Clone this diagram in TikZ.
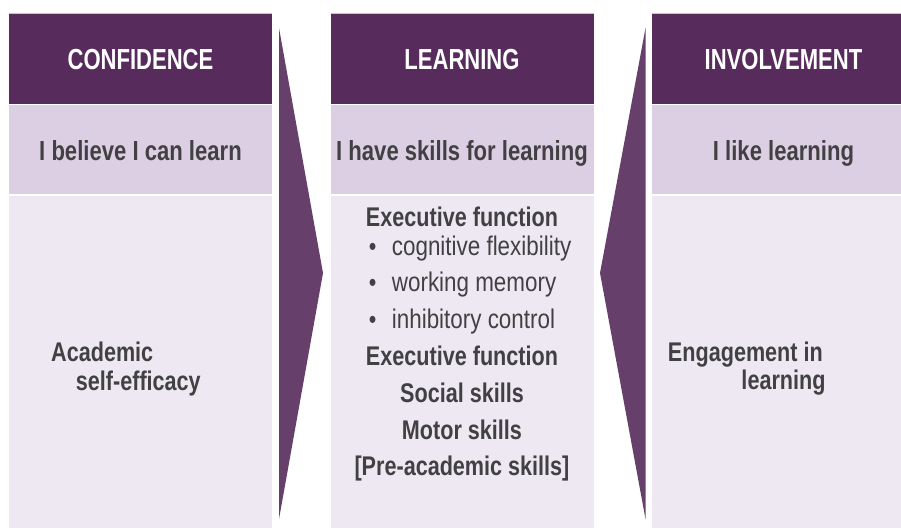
\documentclass[tikz,border=0pt]{standalone}
\usepackage{fontspec}
\newfontfamily\condbold{Liberation Sans}[FakeStretch=0.8,UprightFont={* Bold}]
\newfontfamily\condhead{Liberation Sans}[FakeStretch=0.76,UprightFont={* Bold}]
\newfontfamily\condreg{Liberation Sans}[FakeStretch=0.83]
\definecolor{hdr}{HTML}{582B5D}
\definecolor{subc}{HTML}{DCCFE3}
\definecolor{bodyc}{HTML}{EDE8F2}
\definecolor{tri}{HTML}{663F6B}
\definecolor{txt}{HTML}{414042}
\definecolor{edge}{HTML}{CBBFD3}
\tikzset{
  hdrtext/.style={anchor=base, inner sep=0pt, text=white, font=\condhead\fontsize{29}{32}\selectfont},
  subtext/.style={anchor=base, inner sep=0pt, text=txt, font=\condbold\fontsize{27.6}{30}\selectfont},
  boldtext/.style={anchor=base, inner sep=0pt, text=txt, font=\condbold\fontsize{27}{30}\selectfont},
  regtext/.style={anchor=base west, inner sep=0pt, text=txt, font=\condreg\fontsize{27}{30}\selectfont},
  bullettext/.style={anchor=base, inner sep=0pt, text=txt, font=\condreg\fontsize{26}{30}\selectfont},
}
\begin{document}
\begin{tikzpicture}[x=1pt,y=-1pt]
\clip (0,0) rectangle (901,527);
\fill[white] (0,0) rectangle (901,527);
% columns
\foreach \xl in {9,330.7,652}{
  \fill[hdr] (\xl,13) rectangle ++(263,90.5);
  \draw[edge,line width=0.8pt] (\xl,13.2) -- ++(263,0);
  \fill[subc] (\xl,105) rectangle ++(263,88.5);
  \fill[bodyc] (\xl,196) rectangle ++(263,340);
}
% arrows
\fill[tri] (279,28) -- (323,273) -- (279,519) -- cycle;
\fill[tri] (645.5,28) -- (600,273) -- (645.5,519) -- cycle;
% headers
\node[hdrtext] (h1) at (140.5,70) {CONFIDENCE};
\node[hdrtext] (h2) at (462,70) {LEARNING};
\node[hdrtext] (h3) at (783.5,70) {INVOLVEMENT};
% sub rows
\node[subtext] (s1) at (140.5,160) {I believe I can learn};
\node[subtext] (s2) at (462,160) {I have skills for learning};
\node[subtext] (s3) at (783.5,160) {I like learning};
% left body
\node[boldtext,anchor=base west] (a1) at (51,361) {Academic};
\node[boldtext,anchor=base west] (a2) at (75.7,390) {self-efficacy};
% right body
\node[boldtext,anchor=base east] (e1) at (823,361) {Engagement in};
\node[boldtext,anchor=base east] (e2) at (825.7,389) {learning};
% middle body
\node[boldtext] (m1) at (462,226.7) {Executive function};
\node[bullettext] (b1) at (372.7,255) {•};
\node[regtext] (r1) at (391.7,255) {cognitive flexibility};
\node[bullettext] (b2) at (372.7,291.7) {•};
\node[regtext] (r2) at (391.7,291.7) {working memory};
\node[bullettext] (b3) at (372.7,328) {•};
\node[regtext] (r3) at (391.7,328) {inhibitory control};
\node[boldtext] (m2) at (462,365.7) {Executive function};
\node[boldtext] (m3) at (462,402) {Social skills};
\node[boldtext] (m4) at (462,439) {Motor skills};
\node[boldtext] (m5) at (462,475.7) {[Pre-academic skills]};
\end{tikzpicture}
\end{document}
